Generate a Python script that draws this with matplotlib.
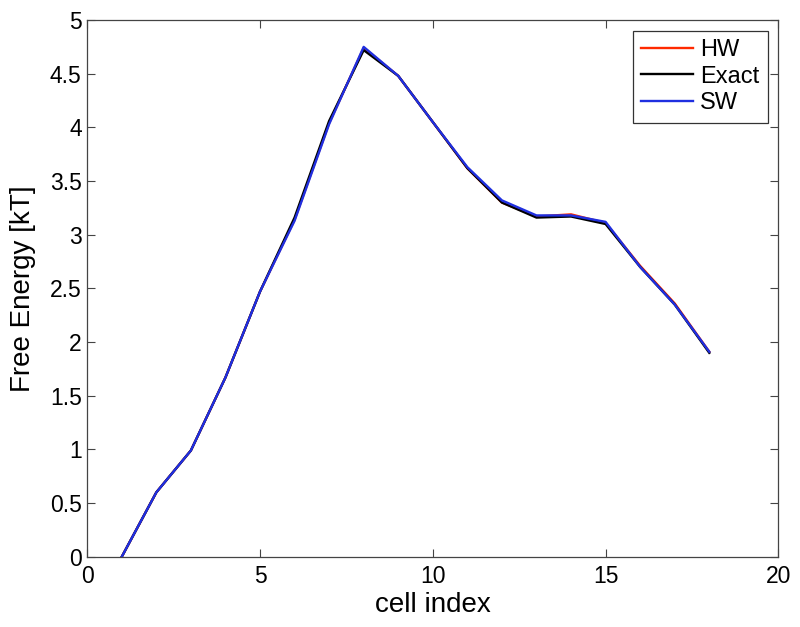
import matplotlib
matplotlib.use("Agg")
import matplotlib.pyplot as plt

cells = [1, 2, 3, 4, 5, 6, 7, 8, 9, 10, 11, 12, 13, 14, 15, 16, 17, 18]
hw = [0.0, 0.60, 0.99, 1.67, 2.47, 3.14, 4.04, 4.74, 4.48, 4.05, 3.62, 3.30, 3.17, 3.19, 3.11, 2.71, 2.36, 1.91]
exact = [0.0, 0.60, 0.99, 1.67, 2.47, 3.16, 4.06, 4.72, 4.48, 4.05, 3.62, 3.30, 3.16, 3.17, 3.10, 2.70, 2.35, 1.90]
sw = [0.0, 0.60, 0.99, 1.67, 2.47, 3.13, 4.03, 4.75, 4.48, 4.05, 3.63, 3.32, 3.18, 3.18, 3.12, 2.70, 2.35, 1.91]

plt.rcParams['font.family'] = ['Liberation Sans', 'DejaVu Sans']

fig = plt.figure(figsize=(8, 6.27), dpi=100)
ax = fig.add_axes([0.109, 0.112, 0.864, 0.856])

ax.plot(cells, hw, color='#ff2a00', lw=1.7, label='HW')
ax.plot(cells, exact, color='black', lw=1.7, label='Exact')
ax.plot(cells, sw, color='#1f2fe0', lw=1.7, label='SW')

ax.set_xlim(0, 20)
ax.set_ylim(0, 5)
ax.set_xticks([0, 5, 10, 15, 20])
ax.set_yticks([0, 0.5, 1, 1.5, 2, 2.5, 3, 3.5, 4, 4.5, 5])
ax.set_yticklabels(['0', '0.5', '1', '1.5', '2', '2.5', '3', '3.5', '4', '4.5', '5'])
ax.tick_params(direction='in', top=True, right=True, labelsize=16.5, length=6,
               width=0.8, color='#444444')
ax.tick_params(axis='x', pad=6)
ax.tick_params(axis='y', pad=4)
for s in ax.spines.values():
    s.set_linewidth(0.9)
    s.set_color('#444444')

ax.set_xlabel('cell index', fontsize=20, labelpad=3)
ax.set_ylabel('Free Energy [kT]', fontsize=20, labelpad=10)

leg = ax.legend(loc='upper right', fontsize=17, fancybox=False, framealpha=1,
                edgecolor='#333333', handlelength=2.2, borderaxespad=0.45,
                labelspacing=0.2, handletextpad=0.3, borderpad=0.35)
leg.get_frame().set_linewidth(0.9)

fig.savefig('out.png', dpi=100)
